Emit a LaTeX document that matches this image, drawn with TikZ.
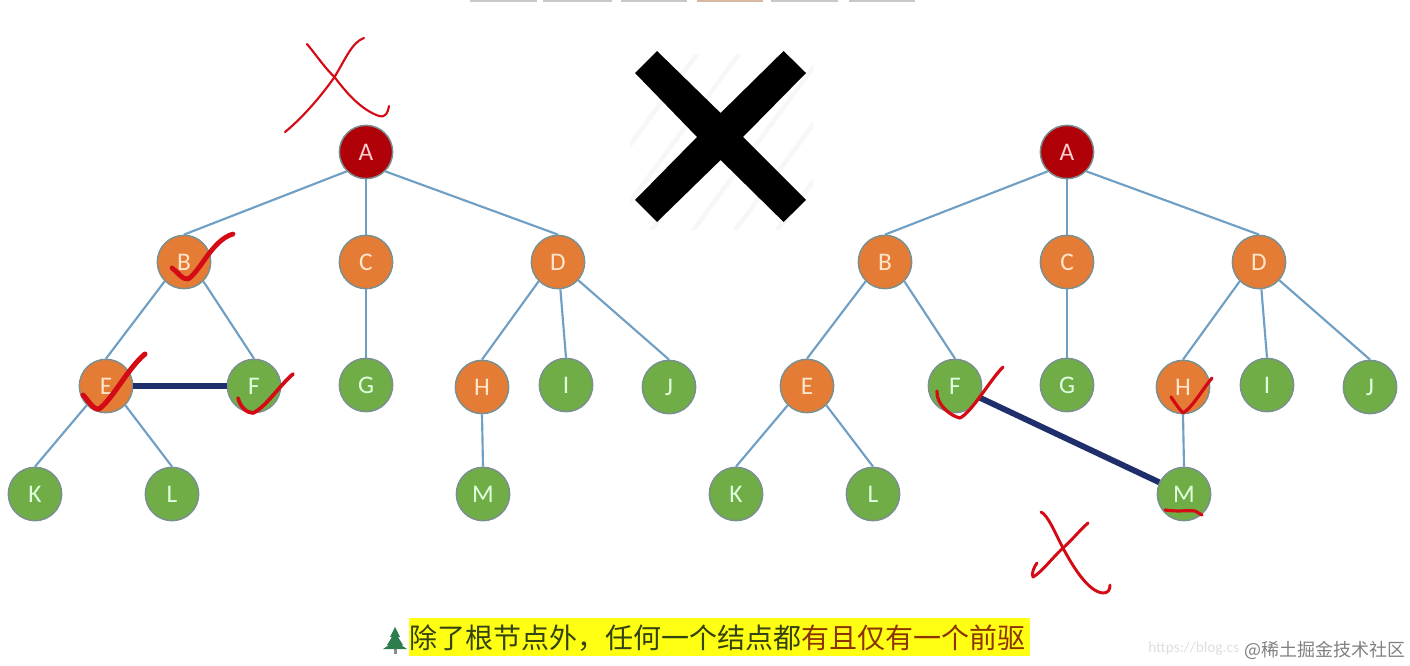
\documentclass[tikz,border=0pt]{standalone}
\usepackage{fontspec}
\setmainfont{Carlito}
\newfontfamily\cjk{Noto Sans CJK SC}
\definecolor{edgeblue}{HTML}{6F9FC4}
\definecolor{navyline}{HTML}{1F2F6B}
\definecolor{rootred}{HTML}{B00008}
\definecolor{innerorange}{HTML}{E57C35}
\definecolor{leafgreen}{HTML}{70AD47}
\definecolor{ringgray}{HTML}{7A8F8F}
\definecolor{inkred}{HTML}{D40A14}
\definecolor{hatchgray}{HTML}{F7F7F7}
\definecolor{barhl}{HTML}{FFFF14}
\definecolor{txtdark}{HTML}{33420F}
\definecolor{txtred}{HTML}{8C3300}
\definecolor{treegreen}{HTML}{2E7D4F}
\tikzset{
  treenode/.style={circle,draw=ringgray,line width=1.1pt,minimum size=40pt,inner sep=0pt,font=\fontsize{19}{19}\selectfont},
  rootnode/.style={treenode,fill=rootred,text=red!20!white},
  innernode/.style={treenode,fill=innerorange,text=orange!20!white},
  leafnode/.style={treenode,fill=leafgreen,text=green!12!white},
  treeedge/.style={draw=edgeblue,line width=1.6pt},
  crosslink/.style={draw=navyline,line width=4.4pt},
  ink/.style={draw=inkred,line cap=round,line join=round},
}
\begin{document}
\begin{tikzpicture}[x=0.75pt,y=-0.75pt]
\useasboundingbox (0,0) rectangle (1410,666);
% top strip
\foreach \a/\b/\c in {470/537/C8C8C8,543/612/C8C8C8,621/687/C8C8C8,697/763/D8B8A0,771/838/C8C8C8,849/915/C8C8C8}{
  \definecolor{stripc}{HTML}{\c}
  \fill[stripc] (\a,0) rectangle (\b,2.5);
}
% faint hatch behind the big cross
\begin{scope}
\clip (630,55) rectangle (813,230);
\foreach \d in {0,42,...,420}{
  \draw[hatchgray,line width=3.5pt] (560+\d,240) -- (700+\d,50);
}
\end{scope}
% big cross
\fill[black] (657,51) -- (720.6,113) -- (783.6,51) -- (806,73) -- (743,137) -- (806,200)
  -- (783.6,222) -- (720.6,160) -- (657,222) -- (635,200) -- (697,137) -- (635,73) -- cycle;
% left tree
\node[rootnode] (la) at (366,152) {A};
\node[innernode] (lb) at (184,262) {B};
\node[innernode] (lc) at (366,262) {C};
\node[innernode] (ld) at (558,262) {D};
\node[innernode] (le) at (106,386) {E};
\node[leafnode] (lf) at (254,386) {F};
\node[leafnode] (lg) at (366,385) {G};
\node[innernode] (lh) at (482,387) {H};
\node[leafnode] (li) at (566,385) {I};
\node[leafnode] (lj) at (669,387) {J};
\node[leafnode] (lk) at (35,494) {K};
\node[leafnode] (ll) at (172,494) {L};
\node[leafnode] (lm) at (483,494) {M};
% right tree
\node[rootnode] (ra) at (1067,152) {A};
\node[innernode] (rb) at (885,262) {B};
\node[innernode] (rc) at (1067,262) {C};
\node[innernode] (rd) at (1259,262) {D};
\node[innernode] (re) at (807,386) {E};
\node[leafnode] (rf) at (955,386) {F};
\node[leafnode] (rg) at (1067,385) {G};
\node[innernode] (rh) at (1183,387) {H};
\node[leafnode] (ri) at (1267,385) {I};
\node[leafnode] (rj) at (1370,387) {J};
\node[leafnode] (rk) at (736,494) {K};
\node[leafnode] (rl) at (873,494) {L};
\node[leafnode] (rm) at (1184,494) {M};
% edges: parent's lower rim to child's top
\foreach \t in {l,r}{
  \foreach \p/\ang/\q in {a/225/b,a/270/c,a/315/d,b/225/e,b/315/f,c/270/g,d/225/h,d/275/i,d/318/j,e/225/k,e/315/l,h/270/m}{
    \draw[treeedge] (\t\p.\ang) -- (\t\q.north);
  }
}
% wrong links
\draw[crosslink] (le) -- (lf);
\draw[crosslink] (rf) -- (rm);
% hand-drawn marks
\draw[ink,line width=1.6pt] (307,44) .. controls (320,60) and (325,68) .. (334.5,77)
  .. controls (348,95) and (362,110) .. (379,116) .. controls (386,118) and (388,112) .. (389,106);
\draw[ink,line width=1.6pt] (364,38) .. controls (352,42) and (345,60) .. (334.5,77)
  .. controls (320,98) and (300,120) .. (285,132);
\draw[ink,line width=3.6pt] (172,268) .. controls (178,272) and (182,280) .. (188,279)
  .. controls (200,272) and (212,240) .. (233,234);
\draw[ink,line width=3.8pt] (83,395) .. controls (88,400) and (93,410) .. (99,409)
  .. controls (112,400) and (128,368) .. (145,354);
\draw[ink,line width=2.8pt] (238,398) .. controls (240,406) and (246,413) .. (253,413)
  .. controls (265,408) and (280,385) .. (293,374);
\draw[ink,line width=2.4pt] (937,391) .. controls (936,404) and (950,416) .. (960,418)
  .. controls (972,412) and (990,380) .. (1003,367);
\draw[ink,line width=2.4pt] (1171,397) .. controls (1175,403) and (1180,410) .. (1183,413)
  .. controls (1192,408) and (1202,390) .. (1212,378);
\draw[ink,line width=2.4pt] (1165,510) .. controls (1178,512) and (1188,510) .. (1195,511) -- (1202,515);
\draw[ink,line width=2.2pt] (1041,512) .. controls (1048,515) and (1056,535) .. (1063,548)
  .. controls (1072,565) and (1088,592) .. (1103,593) .. controls (1108,593) and (1110,590) .. (1110,585);
\draw[ink,line width=2.2pt] (1088,523) .. controls (1080,530) and (1072,540) .. (1063,548)
  .. controls (1052,558) and (1042,572) .. (1033,577) .. controls (1031,574) and (1034,567) .. (1037,563);
% caption
\fill[barhl] (409,618) rectangle (1030,656);
\node[inner sep=0pt,anchor=west,font=\fontsize{21}{21}\selectfont\cjk,text=txtdark] (cap) at (409,638) {除了根节点外，任何一个结点都\textcolor{txtred}{有且仅有一个前驱}};
% small fir tree
\fill[black!45] (393.5,646) rectangle (396.5,654);
\fill[treegreen] (395,627) -- (400,637) -- (398,637) -- (403,645) -- (401,645) -- (407,649)
  -- (383,649) -- (389,645) -- (387,645) -- (392,637) -- (390,637) -- cycle;
% watermarks
\node[inner sep=0pt,anchor=west,font=\fontsize{11.5}{11.5}\selectfont,text=black!13] (wm) at (1148,648) {https://blog.cs};
\node[inner sep=0pt,anchor=east,font=\fontsize{13.5}{13.5}\selectfont\cjk,text=black!50] (wj) at (1406,650) {@稀土掘金技术社区};
\end{tikzpicture}
\end{document}
